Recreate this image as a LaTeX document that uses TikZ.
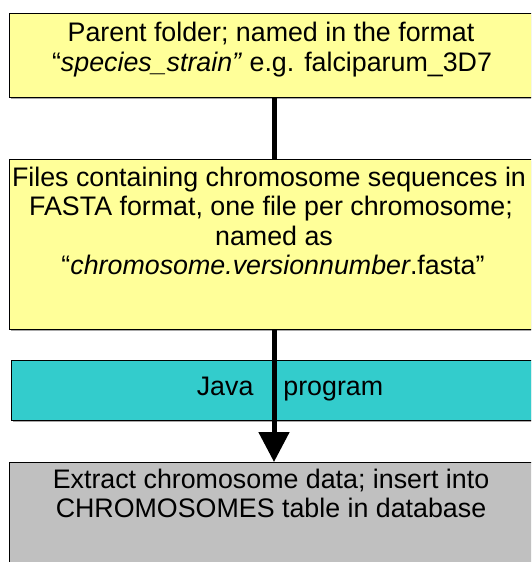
\documentclass[tikz,border=0pt]{standalone}
\usepackage{fontspec}
\setmainfont{Liberation Sans}
\usetikzlibrary{arrows.meta}

\definecolor{noteyellow}{HTML}{FFFF99}
\definecolor{progteal}{HTML}{33CCCC}
\definecolor{dbgray}{HTML}{C0C0C0}
\definecolor{shadowgray}{HTML}{A8A8A8}

\tikzset{
  box/.style={draw=black, line width=1pt, rectangle, inner sep=0pt, outer sep=0pt,
    anchor=north west, minimum width=528pt},
  boxshadow/.style={fill=shadowgray},
  txt/.style={font=\fontsize{26.8pt}{29.5pt}\selectfont, anchor=base, inner sep=0pt, text=black},
  flow/.style={line width=5pt, draw=black},
}

\begin{document}
\begin{tikzpicture}[x=1pt, y=-1pt]
  \useasboundingbox (0,0) rectangle (531,562);
  \clip (0,0) rectangle (531,562);
  \fill[white] (0,0) rectangle (531,562);

  % thin drop shadows under the boxes
  \fill[boxshadow] (10.5,14.5) rectangle (539,99);
  \fill[boxshadow] (10.5,160.5) rectangle (539,331);
  \fill[boxshadow] (12.5,361.5) rectangle (539,422);

  % boxes
  \node[box, fill=noteyellow, minimum height=84pt]  (b1) at (9,13)  {};
  \node[box, fill=noteyellow, minimum height=170pt] (b2) at (9,159) {};
  \node[box, fill=progteal,   minimum height=60pt]  (b3) at (11,360) {};
  \node[box, fill=dbgray,     minimum height=140pt] (b4) at (9,462) {};

  % vertical spine of the flow
  \coordinate (spine) at (274,0);

  % connectors
  \draw[flow] (b1.south -| spine) -- (b2.north -| spine);
  \draw[flow, -{Triangle[width=30pt,length=30pt]}] (b2.south -| spine) -- (b4.north -| spine);

  % texts
  \node[txt] (t1a) at (271,41.5) {Parent folder; named in the format};
  \node[txt] (t1b) at (272,71) {“\textit{species\_strain”} e.g. falciparum\_3D7};

  \node[txt] (t2a) at (269,186) {Files containing chromosome sequences in};
  \node[txt] (t2b) at (271,215.5) {FASTA format, one file per chromosome;};
  \node[txt] (t2c) at (274,245) {named as};
  \node[txt] (t2d) at (273,274.5) {“\textit{chromosome.versionnumber}.fasta”};

  \node[txt] (t3) at (290,395) {Java\hspace{30pt}program};

  \node[txt] (t4a) at (271,488) {Extract chromosome data; insert into};
  \node[txt] (t4b) at (271,517.5) {CHROMOSOMES table in database};
\end{tikzpicture}
\end{document}
